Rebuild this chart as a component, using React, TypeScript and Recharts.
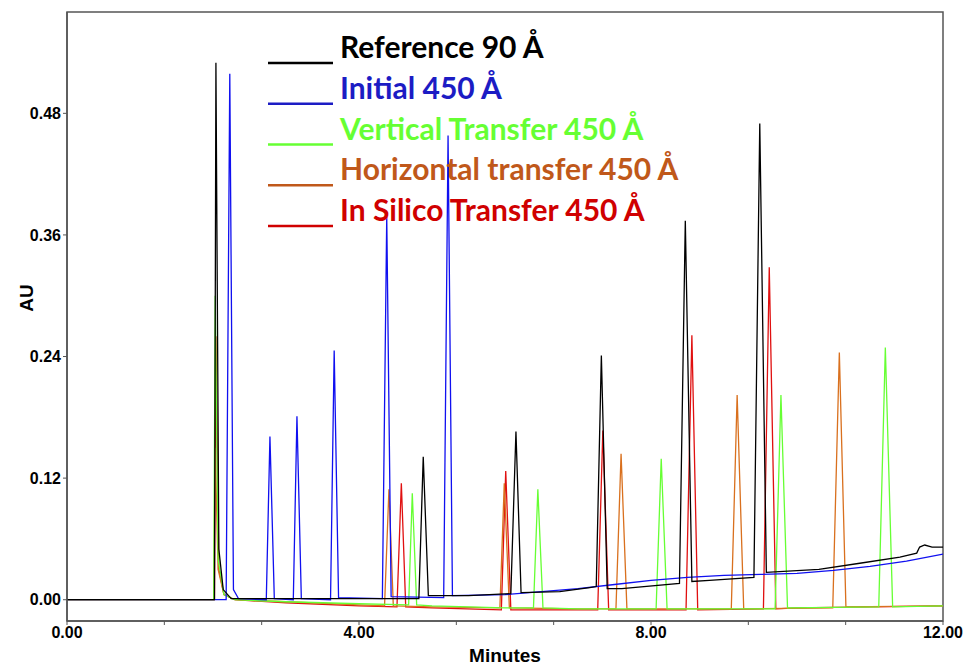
import { LineChart, Line, XAxis, YAxis, ReferenceArea } from "recharts";

// traces: [minutes, AU]
const reference90 = [
  [0, 0], [2.02, 0], [2.04, 0.53], [2.08, 0.05], [2.14, 0.01], [2.25, 0.001],
  [4.82, 0.001], [4.88, 0.141], [4.95, 0.004], [5.5, 0.004], [6.08, 0.006],
  [6.15, 0.166], [6.22, 0.007], [6.75, 0.008], [7.16, 0.012], [7.25, 0.013],
  [7.32, 0.241], [7.4, 0.011], [7.6, 0.011], [8.39, 0.016], [8.47, 0.374],
  [8.56, 0.018], [8.8, 0.019], [9.41, 0.022], [9.49, 0.47], [9.58, 0.027],
  [10.3, 0.03], [10.86, 0.036], [11.41, 0.042], [11.64, 0.046], [11.68, 0.052],
  [11.75, 0.054], [11.85, 0.052], [12, 0.052],
];
const initial450 = [
  [0, 0], [2.18, 0], [2.23, 0.519], [2.28, 0.01], [2.35, 0.001], [2.73, 0],
  [2.78, 0.161], [2.84, 0.001], [3.1, 0], [3.15, 0.181], [3.21, 0.001],
  [3.61, 0], [3.66, 0.246], [3.72, 0.002], [4.32, 0.001], [4.38, 0.378],
  [4.44, 0.003], [5.16, 0.002], [5.22, 0.458], [5.28, 0.004], [6.0, 0.005],
  [7.0, 0.011], [7.5, 0.015], [8.0, 0.019], [8.5, 0.022], [9.0, 0.024],
  [9.5, 0.025], [10.0, 0.026], [10.5, 0.029], [11.0, 0.033], [11.5, 0.038],
  [12, 0.045],
];
const vertical450 = [
  [0, 0], [2.01, 0], [2.03, 0.3], [2.07, 0.04], [2.15, 0.005], [2.3, 0],
  [3, -0.002], [4, -0.004], [4.68, -0.005], [4.73, 0.105], [4.79, -0.005],
  [5, -0.006], [6, -0.008], [6.39, -0.008], [6.45, 0.109], [6.52, -0.008],
  [7, -0.009], [8.07, -0.009], [8.14, 0.139], [8.22, -0.009], [9.7, -0.009],
  [9.78, 0.202], [9.87, -0.008], [11.12, -0.007], [11.21, 0.249],
  [11.31, -0.007], [12, -0.006],
];
const horizontal450 = [
  [0, 0], [2.01, 0], [2.03, 0.15], [2.07, 0.03], [2.15, 0.005], [2.3, 0],
  [3, -0.002], [4, -0.005], [4.35, -0.006], [4.41, 0.109], [4.47, -0.006],
  [5, -0.007], [5.93, -0.008], [5.99, 0.115], [6.06, -0.008], [7, -0.009],
  [7.52, -0.009], [7.59, 0.144], [7.67, -0.009], [9.1, -0.009], [9.18, 0.202],
  [9.27, -0.009], [10.49, -0.008], [10.58, 0.244], [10.67, -0.007],
  [12, -0.006],
];
const inSilico450 = [
  [0, 0], [2.02, 0], [2.04, 0.26], [2.08, 0.03], [2.15, 0.005], [2.3, 0],
  [3, -0.003], [4, -0.006], [4.52, -0.007], [4.58, 0.115], [4.64, -0.007],
  [5, -0.008], [5.95, -0.01], [6.01, 0.127], [6.08, -0.01], [7.27, -0.01],
  [7.34, 0.167], [7.42, -0.01], [8.48, -0.01], [8.56, 0.261], [8.64, -0.01],
  [9.54, -0.009], [9.62, 0.328], [9.71, -0.009], [10, -0.008], [12, -0.006],
];

const minuteTicks = [0, 4 / 3, 8 / 3, 4, 16 / 3, 20 / 3, 8, 28 / 3, 32 / 3, 12];
const auTicks = [0, 0.12, 0.24, 0.36, 0.48];

const series = [
  { name: "Reference 90 Å", pts: reference90, line: "#000000", text: "#000000" },
  { name: "Initial 450 Å", pts: initial450, line: "#1010f0", text: "#1c1cc4" },
  { name: "Vertical Transfer 450 Å", pts: vertical450, line: "#66ff33", text: "#66ff33" },
  { name: "Horizontal transfer 450 Å", pts: horizontal450, line: "#d9701e", text: "#c0581a" },
  { name: "In Silico Transfer 450 Å", pts: inSilico450, line: "#e01010", text: "#d00000" },
];

const toPts = (arr: number[][]) => arr.map(([t, v]) => ({ t, v }));

const tickFont = {
  fill: "#000",
  fontSize: 16,
  fontWeight: 700,
  fontFamily: "'Liberation Sans Narrow', 'Arial Narrow', 'Liberation Sans', Arial, sans-serif",
};

function LegendBox() {
  return (
    <svg
      width={460}
      height={240}
      style={{ position: "absolute", left: 260, top: 10, overflow: "visible" }}
    >
      {series.map((s, i) => {
        const y = 53 + i * 40.75;
        return (
          <g key={s.name}>
            <line x1={8} x2={73} y1={y} y2={y} stroke={s.text} strokeWidth={2.5} />
            <text
              x={80}
              y={y - 5}
              fill={s.text}
              fontFamily="Lato, 'Open Sans', sans-serif"
              fontWeight={700}
              fontSize={30}
            >
              {s.name}
            </text>
          </g>
        );
      })}
    </svg>
  );
}

export default function App() {
  // draw black last so it sits on top like the original
  const drawOrder = [4, 3, 2, 1, 0];
  return (
    <div style={{ position: "absolute", left: 0, top: 0, width: 963, height: 665, background: "#fff" }}>
      <LineChart width={963} height={665} margin={{ top: 12, right: 20, left: 0, bottom: 0 }}>
        <XAxis
          dataKey="t"
          type="number"
          domain={[0, 12]}
          ticks={minuteTicks}
          interval={0}
          allowDataOverflow
          height={44}
          tickSize={4}
          tick={tickFont}
          tickFormatter={(v: number) => (Math.abs(v % 4) < 1e-6 ? v.toFixed(2) : "")}
          axisLine={{ stroke: "#555", strokeWidth: 1.5 }}
          tickLine={{ stroke: "#555" }}
          label={{
            content: () => (
              <text x={505} y={662} textAnchor="middle" style={{ ...tickFont, fontSize: 19 }}>
                Minutes
              </text>
            ),
          }}
        />
        <YAxis
          type="number"
          domain={[-0.021, 0.58]}
          ticks={auTicks}
          allowDataOverflow
          width={67}
          tickSize={4}
          tick={tickFont}
          tickFormatter={(v: number) => v.toFixed(2)}
          axisLine={{ stroke: "#555", strokeWidth: 1.5 }}
          tickLine={{ stroke: "#555" }}
          label={{
            content: () => (
              <text
                x={26}
                y={298}
                transform="rotate(-90 26 298)"
                textAnchor="middle"
                dominantBaseline="central"
                style={{ ...tickFont, fontSize: 19 }}
              >
                AU
              </text>
            ),
          }}
        />
        <ReferenceArea
          x1={0}
          x2={12}
          y1={-0.021}
          y2={0.58}
          fill="none"
          stroke="#555"
          strokeWidth={1.5}
          ifOverflow="visible"
        />
        {drawOrder.map((i) => (
          <Line
            key={series[i].name}
            data={toPts(series[i].pts)}
            dataKey="v"
            name={series[i].name}
            type="linear"
            stroke={series[i].line}
            strokeWidth={1.3}
            dot={false}
            activeDot={false}
            isAnimationActive={false}
          />
        ))}
      </LineChart>
      <LegendBox />
    </div>
  );
}
